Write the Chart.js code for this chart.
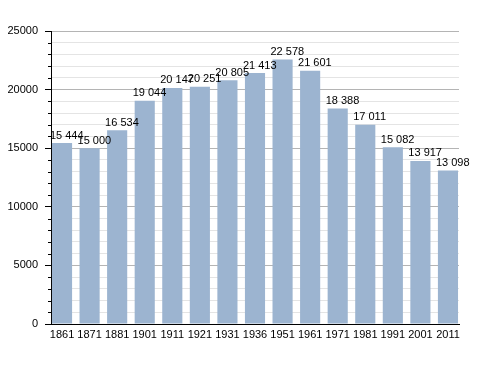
<!DOCTYPE html>
<html>
<head>
<meta charset="utf-8">
<script src="https://cdn.jsdelivr.net/npm/chart.js@4/dist/chart.umd.min.js"></script>
<style>
  html, body { margin: 0; padding: 0; background: #fff; }
  #wrap { width: 488px; height: 373px; }
</style>
</head>
<body>
<div id="wrap"><canvas id="c" width="488" height="373"></canvas></div>
<script>
// === Data ===
const years = ['1861', '1871', '1881', '1901', '1911', '1921', '1931', '1936', '1951', '1961', '1971', '1981', '1991', '2001', '2011'];
const population = [15444, 15000, 16534, 19044, 20147, 20251, 20805, 21413, 22578, 21601, 18388, 17011, 15082, 13917, 13098];
const yTicks = [0, 5000, 10000, 15000, 20000, 25000];

const fmt = v => String(v).replace(/\B(?=(\d{3})+(?!\d))/g, ' ');
const isMajor = v => v % 5000 === 0;
const FONT = '"Liberation Sans", Arial, sans-serif';

// labels above each bar, starting at the bar's left edge
const barLabels = {
  id: 'barLabels',
  afterDatasetsDraw(chart) {
    const ctx = chart.ctx;
    const meta = chart.getDatasetMeta(0);
    ctx.save();
    ctx.font = '11px ' + FONT;
    ctx.fillStyle = '#000';
    ctx.textAlign = 'left';
    ctx.textBaseline = 'bottom';
    meta.data.forEach((bar, i) => {
      ctx.fillText(fmt(population[i]), bar.x - bar.width / 2 - 2, bar.y - 2);
    });
    ctx.restore();
  }
};

// short minor tick marks on the y axis
const minorTicks = {
  id: 'minorTicks',
  afterDraw(chart) {
    const y = chart.scales.y;
    const ctx = chart.ctx;
    ctx.save();
    ctx.strokeStyle = '#000';
    ctx.lineWidth = 1;
    y.ticks.forEach(t => {
      if (isMajor(t.value)) return;
      const py = Math.round(y.getPixelForValue(t.value)) + 0.5;
      ctx.beginPath();
      ctx.moveTo(y.right - 3, py);
      ctx.lineTo(y.right, py);
      ctx.stroke();
    });
    ctx.restore();
  }
};

new Chart(document.getElementById('c'), {
  type: 'bar',
  data: {
    datasets: [{
      data: population.map((v, i) => ({ x: i, y: v })),
      backgroundColor: '#9cb4d0',
      borderWidth: 0,
      barPercentage: 0.73,
      categoryPercentage: 1
    }]
  },
  options: {
    responsive: false,
    animation: false,
    layout: { padding: { top: 31, right: 29, left: 0, bottom: 0 } },
    plugins: { legend: { display: false }, tooltip: { enabled: false } },
    scales: {
      x: {
        type: 'linear',
        min: -0.4,
        max: years.length - 0.6,
        offset: false,
        grid: { display: false, drawTicks: false },
        border: { color: '#000', width: 1 },
        afterBuildTicks(s) { s.ticks = years.map((_, i) => ({ value: i })); },
        ticks: {
          color: '#000',
          font: { size: 11, family: FONT },
          padding: 4,
          maxRotation: 0,
          autoSkip: false,
          callback: v => years[v]
        },
        afterFit(s) { s.height = 49; }
      },
      y: {
        min: 0,
        max: 25000,
        grid: {
          color: c => (c.tick && isMajor(c.tick.value)) ? '#b4b4b4' : '#e4e4e4',
          tickColor: c => (c.tick && isMajor(c.tick.value)) ? '#000' : 'rgba(0,0,0,0)',
          tickLength: 6
        },
        border: { color: '#000', width: 1 },
        ticks: {
          stepSize: 1000,
          autoSkip: false,
          color: '#000',
          padding: 7,
          font: { size: 11, family: FONT },
          callback: v => yTicks.includes(v) ? v : ''
        },
        afterFit(s) { s.width = 51; }
      }
    }
  },
  plugins: [barLabels, minorTicks]
});
</script>
</body>
</html>
